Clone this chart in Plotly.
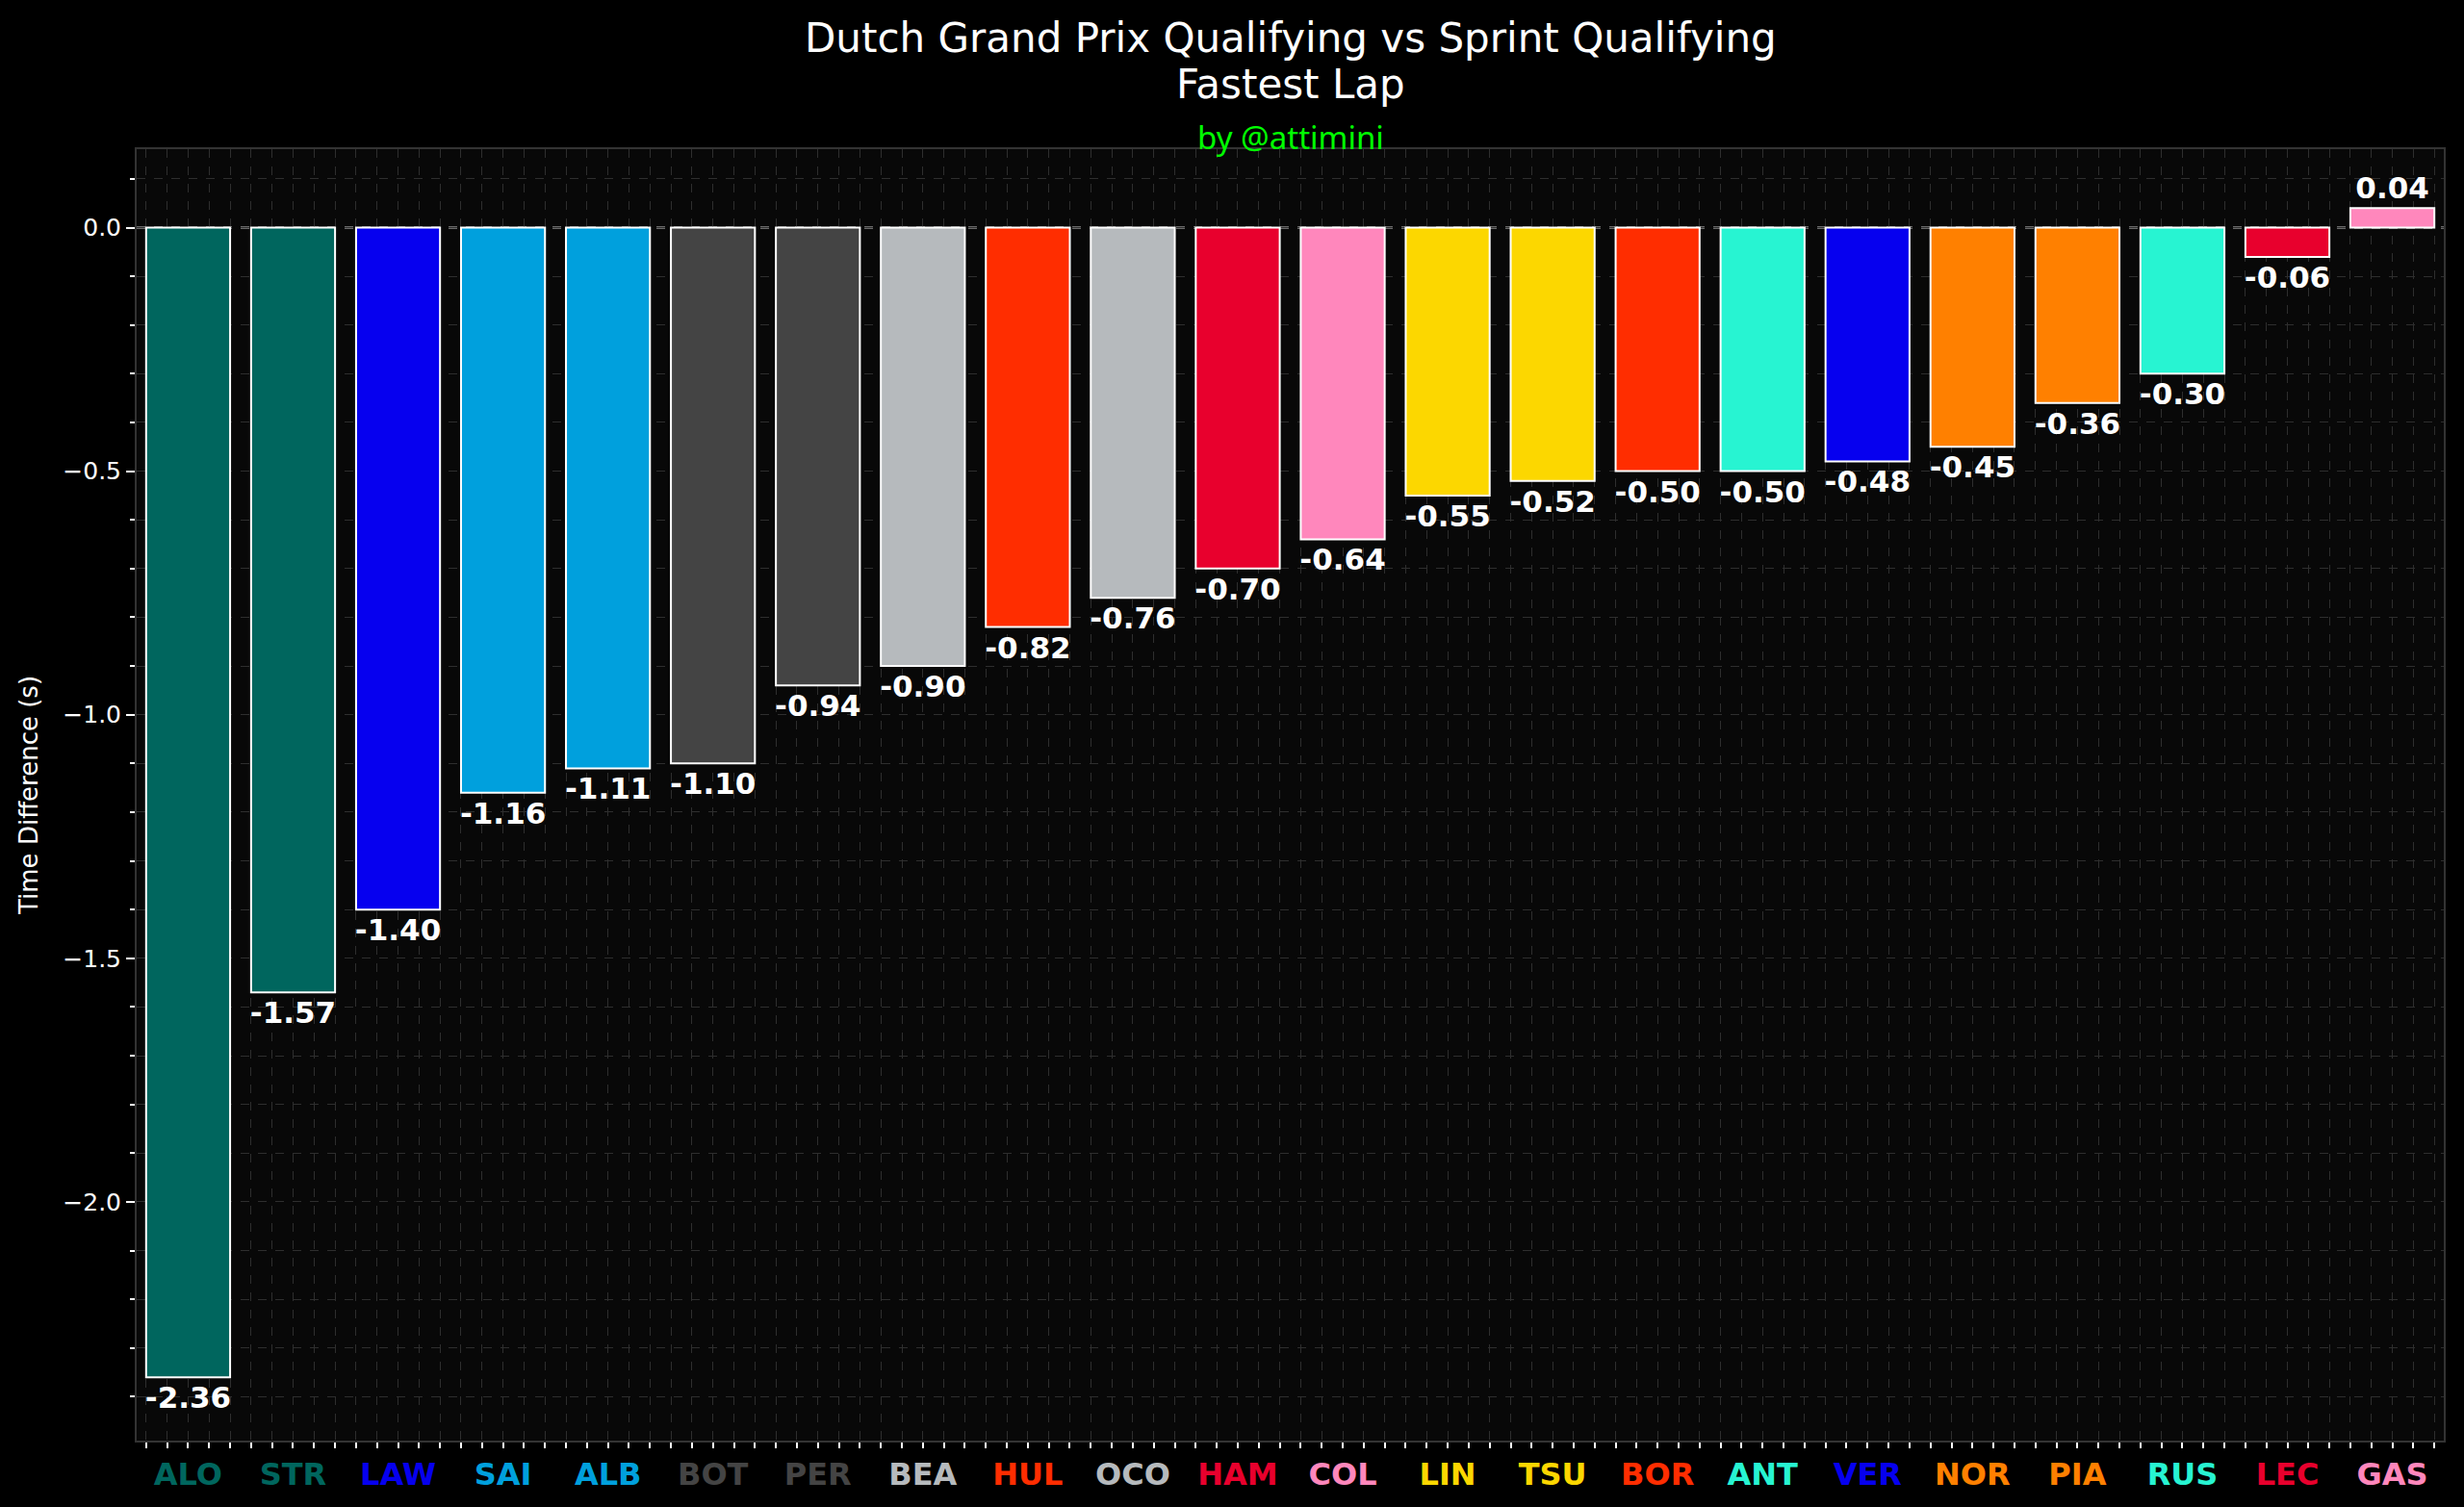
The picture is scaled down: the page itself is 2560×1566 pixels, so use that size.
import plotly.graph_objects as go

drivers = ["ALO", "STR", "LAW", "SAI", "ALB", "BOT", "PER", "BEA", "HUL", "OCO", "HAM",
           "COL", "LIN", "TSU", "BOR", "ANT", "VER", "NOR", "PIA", "RUS", "LEC", "GAS"]
time_diff = [-2.36, -1.57, -1.40, -1.16, -1.11, -1.10, -0.94, -0.90, -0.82, -0.76, -0.70,
             -0.64, -0.55, -0.52, -0.50, -0.50, -0.48, -0.45, -0.36, -0.30, -0.06, 0.04]
# one team colour per driver
team_colors = ["#00665E", "#00665E", "#0600EF", "#00A0DD", "#00A0DD", "#444444", "#444444",
               "#B6BABD", "#FF2D00", "#B6BABD", "#E8002D", "#FF87BC", "#FCD700", "#FCD700",
               "#FF2D00", "#27F4D2", "#0600EF", "#FF8000", "#FF8000", "#27F4D2", "#E8002D",
               "#FF87BC"]

positions = list(range(len(drivers)))
labels = [f"{v:.2f}" for v in time_diff]
tick_text = [f"<span style='color:{c}'><b>{d}</b></span>" for d, c in zip(drivers, team_colors)]

font = "DejaVu Sans"
grid_col = "#2e2e2e"
plot_h = 1566 - 155 - 69

fig = go.Figure()
fig.add_trace(go.Bar(
    x=positions, y=time_diff, width=0.8,
    marker=dict(color=team_colors, line=dict(color="white", width=2)),
    text=labels, textposition="outside", constraintext="none", cliponaxis=False,
    textfont=dict(family=font, size=31, color="white", weight="bold"),
    hoverinfo="skip",
))

fig.add_hline(y=0, line=dict(color="#8a8a8a", width=2.5, dash="dash"), layer="below")

# title lines and credit, placed above the plot area
head = [("Dutch Grand Prix Qualifying vs Sprint Qualifying", 39, 42, font, "white"),
        ("Fastest Lap", 87, 42, font, "white"),
        ("by @attimini", 142, 33, "Noto Sans", "#00FF00")]
annotations = [dict(text=t, x=0.5, y=1 + (155 - py) / plot_h, xref="paper", yref="paper",
                    xanchor="center", yanchor="middle", showarrow=False,
                    font=dict(family=f, size=s, color=c))
               for t, py, s, f, c in head]

fig.update_layout(
    width=2560, height=1566,
    paper_bgcolor="black", plot_bgcolor="#080808",
    margin=dict(l=142, r=21, t=155, b=69),
    showlegend=False,
    font=dict(family=font, color="white"),
    annotations=annotations,
)

fig.update_xaxes(
    range=[-0.49, 21.49], tickvals=positions, ticktext=tick_text,
    tickfont=dict(family=font, size=32), ticks="outside", ticklen=0, ticklabelstandoff=6,
    showgrid=True, gridcolor=grid_col, griddash="dash", gridwidth=1,
    zeroline=False, showline=True, mirror=True, linecolor="#333333", linewidth=2,
    minor=dict(dtick=0.2, tick0=0, ticks="outside", ticklen=6, tickcolor="white", tickwidth=2,
               showgrid=True, gridcolor=grid_col, griddash="dash", gridwidth=1),
)
fig.update_yaxes(
    range=[-2.49, 0.161], dtick=0.5, tick0=0, tickformat=".1f",
    tickfont=dict(family=font, size=25, color="white"),
    ticks="outside", ticklen=9, tickwidth=2, tickcolor="white",
    title=dict(text="Time Difference (s)", font=dict(family=font, size=26, color="white"), standoff=18),
    showgrid=True, gridcolor=grid_col, griddash="dash", gridwidth=1,
    zeroline=False, showline=True, mirror=True, linecolor="#333333", linewidth=2,
    minor=dict(dtick=0.1, ticks="outside", ticklen=5, tickcolor="white", tickwidth=2,
               showgrid=True, gridcolor=grid_col, griddash="dash", gridwidth=1),
)

fig.write_html("out.html", config={"displayModeBar": False},
               post_script="document.body.style.margin='0';document.body.style.background='black';")
